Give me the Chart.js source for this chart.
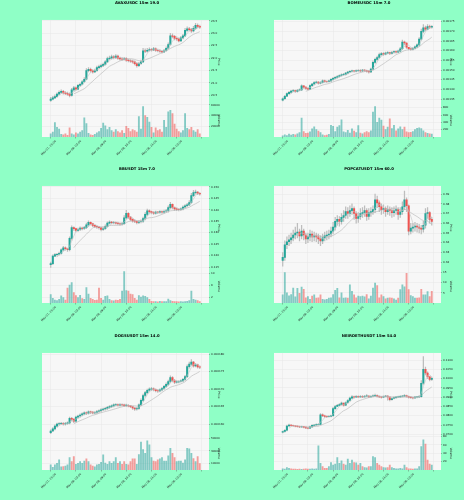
<!DOCTYPE html>
<html><head><meta charset="utf-8">
<script src="https://cdn.jsdelivr.net/npm/chart.js@4.4.1/dist/chart.umd.min.js"></script>
<style>
html,body{margin:0;padding:0;background:#8fffc6;}
#wrap{position:relative;width:464px;height:500px;background:#8fffc6;overflow:hidden;}
canvas{position:absolute;}
</style></head><body><div id="wrap"></div>
<script>
// ---------- data ----------
const timeLabels = ['May 07, 21:00','May 08, 03:00','May 08, 09:00','May 08, 15:00','May 08, 21:00','May 09, 03:00'];
const tickPositions = [0,12,24,36,48,60,72];
const maWindows = [4, 12];

const avaxClose = [20.35,20.40,20.45,20.55,20.62,20.66,20.60,20.58,20.55,20.50,20.72,20.80,20.75,20.90,20.95,21.05,21.15,21.50,21.55,21.50,21.45,21.50,21.62,21.66,21.70,21.75,21.85,21.98,22.00,22.05,22.02,22.08,22.00,21.97,21.96,21.98,21.92,21.90,21.88,21.85,21.78,21.70,21.78,21.85,22.30,22.28,22.32,22.35,22.33,22.38,22.32,22.30,22.28,22.25,22.30,22.40,22.55,22.90,22.88,22.80,22.78,22.70,22.82,22.90,23.12,23.18,23.15,23.10,23.20,23.32,23.28,23.25];
const avaxHigh = [20.42,20.46,20.52,20.60,20.68,20.72,20.70,20.65,20.63,20.60,20.78,20.86,20.84,20.95,21.00,21.10,21.22,21.58,21.62,21.60,21.54,21.56,21.68,21.72,21.76,21.80,21.90,22.04,22.08,22.12,22.10,22.14,22.12,22.04,22.02,22.03,22.02,21.96,21.94,21.92,21.89,21.82,21.83,21.92,22.40,22.38,22.40,22.42,22.40,22.44,22.42,22.37,22.35,22.32,22.36,22.46,22.62,23.00,22.98,22.92,22.86,22.82,22.88,22.96,23.20,23.26,23.24,23.20,23.28,23.40,23.38,23.33];
const avaxLow = [20.26,20.32,20.37,20.42,20.52,20.58,20.55,20.53,20.50,20.44,20.47,20.68,20.70,20.72,20.86,20.92,21.02,21.12,21.45,21.44,21.40,21.42,21.47,21.58,21.62,21.66,21.72,21.82,21.94,21.96,21.97,21.98,21.95,21.92,21.91,21.92,21.87,21.85,21.83,21.80,21.73,21.64,21.66,21.75,21.82,22.22,22.24,22.28,22.28,22.30,22.27,22.25,22.23,22.20,22.22,22.27,22.37,22.52,22.82,22.74,22.72,22.65,22.67,22.78,22.87,23.08,23.10,23.04,23.06,23.16,23.22,23.20];
const avaxVol = [6000,9000,27000,18000,15000,5000,4000,6000,3000,17000,6000,4000,8000,6000,9000,12000,36000,25000,7000,4000,3000,5000,8000,10000,16000,26000,21000,14000,18000,12000,9000,14000,10000,8000,12000,7000,20000,16000,10000,14000,12000,9000,38000,15000,57000,40000,37000,28000,18000,8000,17000,12000,14000,9000,31000,18000,47000,50000,44000,24000,15000,10000,8000,12000,44000,16000,14000,18000,12000,9000,14000,6000];
const avaxPriceTicks = [20.5,21.0,21.5,22.0,22.5,23.0,23.5];
const avaxVolTicks = [20000,40000,60000];

const bomeClose = [0.001352,0.001365,0.001378,0.001385,0.001392,0.001394,0.001390,0.001396,0.001398,0.001418,0.001412,0.001405,0.001402,0.001420,0.001428,0.001436,0.001438,0.001432,0.001436,0.001445,0.001441,0.001440,0.001444,0.001452,0.001458,0.001462,0.001467,0.001472,0.001476,0.001478,0.001484,0.001490,0.001494,0.001496,0.001494,0.001497,0.001499,0.001496,0.001500,0.001498,0.001495,0.001490,0.001505,0.001540,0.001555,0.001565,0.001580,0.001585,0.001582,0.001588,0.001590,0.001586,0.001592,0.001595,0.001593,0.001598,0.001610,0.001645,0.001640,0.001618,0.001610,0.001608,0.001612,0.001620,0.001630,0.001660,0.001700,0.001718,0.001712,0.001725,0.001722,0.001726];
const bomeHigh = [0.001356,0.001370,0.001382,0.001390,0.001396,0.001399,0.001397,0.001400,0.001403,0.001424,0.001420,0.001414,0.001408,0.001424,0.001432,0.001440,0.001443,0.001440,0.001440,0.001449,0.001448,0.001445,0.001448,0.001456,0.001462,0.001466,0.001471,0.001476,0.001480,0.001483,0.001488,0.001494,0.001498,0.001500,0.001499,0.001501,0.001503,0.001502,0.001504,0.001503,0.001500,0.001497,0.001510,0.001548,0.001562,0.001572,0.001588,0.001591,0.001590,0.001593,0.001596,0.001593,0.001597,0.001600,0.001599,0.001603,0.001618,0.001655,0.001650,0.001642,0.001618,0.001615,0.001617,0.001625,0.001636,0.001668,0.001712,0.001735,0.001728,0.001735,0.001732,0.001730];
const bomeLow = [0.001340,0.001348,0.001362,0.001374,0.001381,0.001388,0.001385,0.001386,0.001392,0.001394,0.001406,0.001400,0.001397,0.001399,0.001416,0.001424,0.001432,0.001427,0.001428,0.001432,0.001436,0.001435,0.001437,0.001440,0.001448,0.001454,0.001458,0.001463,0.001468,0.001472,0.001474,0.001480,0.001486,0.001490,0.001489,0.001490,0.001493,0.001491,0.001492,0.001493,0.001489,0.001484,0.001486,0.001500,0.001535,0.001550,0.001560,0.001576,0.001576,0.001578,0.001583,0.001580,0.001582,0.001588,0.001587,0.001590,0.001594,0.001605,0.001630,0.001612,0.001604,0.001602,0.001603,0.001608,0.001615,0.001625,0.001655,0.001692,0.001702,0.001708,0.001714,0.001716];
const bomeVol = [30,60,40,80,50,70,60,90,120,520,150,100,110,140,220,280,200,160,120,60,40,50,70,320,290,150,270,310,470,140,120,180,110,220,160,120,310,110,90,120,150,120,170,680,830,400,520,460,300,200,270,500,230,320,170,220,280,200,270,140,120,130,150,200,240,250,230,170,120,100,90,80];
const bomePriceTicks = [0.00135,0.00140,0.00145,0.00150,0.00155,0.00160,0.00165,0.00170,0.00175];
const bomeVolTicks = [200,400,600,800];

const bbClose = [0.1165,0.1198,0.1204,0.1206,0.1210,0.1225,0.1234,0.1230,0.1226,0.1275,0.1322,0.1318,0.1310,0.1314,0.1320,0.1318,0.1322,0.1334,0.1345,0.1340,0.1332,0.1328,0.1325,0.1322,0.1314,0.1318,0.1328,0.1342,0.1346,0.1344,0.1345,0.1342,0.1340,0.1338,0.1340,0.1365,0.1385,0.1368,0.1358,0.1352,0.1350,0.1345,0.1348,0.1350,0.1362,0.1380,0.1396,0.1392,0.1388,0.1386,0.1390,0.1389,0.1392,0.1390,0.1394,0.1396,0.1410,0.1424,0.1410,0.1404,0.1402,0.1401,0.1404,0.1412,0.1418,0.1422,0.1432,0.1462,0.1475,0.1478,0.1472,0.1470];
const bbHigh = [0.1172,0.1203,0.1209,0.1210,0.1215,0.1230,0.1240,0.1238,0.1233,0.1282,0.1330,0.1326,0.1320,0.1320,0.1326,0.1325,0.1328,0.1342,0.1352,0.1348,0.1342,0.1335,0.1331,0.1328,0.1324,0.1324,0.1334,0.1348,0.1352,0.1350,0.1350,0.1348,0.1346,0.1343,0.1345,0.1375,0.1398,0.1388,0.1372,0.1362,0.1357,0.1352,0.1353,0.1356,0.1368,0.1388,0.1403,0.1400,0.1395,0.1392,0.1395,0.1394,0.1397,0.1396,0.1399,0.1402,0.1418,0.1433,0.1426,0.1412,0.1408,0.1406,0.1409,0.1418,0.1423,0.1428,0.1440,0.1472,0.1485,0.1486,0.1480,0.1476];
const bbLow = [0.1148,0.1160,0.1195,0.1198,0.1202,0.1206,0.1220,0.1224,0.1218,0.1220,0.1268,0.1310,0.1304,0.1306,0.1309,0.1312,0.1314,0.1318,0.1328,0.1334,0.1326,0.1322,0.1319,0.1316,0.1308,0.1310,0.1314,0.1324,0.1338,0.1338,0.1339,0.1337,0.1334,0.1332,0.1333,0.1336,0.1360,0.1362,0.1352,0.1346,0.1344,0.1339,0.1340,0.1343,0.1345,0.1356,0.1375,0.1385,0.1382,0.1380,0.1381,0.1383,0.1384,0.1384,0.1386,0.1389,0.1390,0.1404,0.1404,0.1398,0.1396,0.1395,0.1396,0.1400,0.1408,0.1413,0.1418,0.1428,0.1458,0.1468,0.1466,0.1464];
const bbVol = [2.8,1.6,1.0,0.8,1.2,2.4,1.8,1.0,5.0,6.0,6.8,3.5,2.5,1.8,2.6,1.5,1.2,5.2,3.0,1.6,1.2,0.9,1.0,5.0,1.6,1.0,2.2,2.4,1.2,0.8,0.7,1.0,0.9,1.2,4.0,10.5,4.2,4.0,3.0,2.8,1.6,1.0,2.5,2.0,2.4,2.2,1.8,1.2,0.6,0.5,0.5,0.4,0.6,0.5,0.5,0.5,1.3,0.8,0.6,0.5,0.5,0.4,0.5,0.4,0.5,0.6,0.8,4.0,1.2,1.0,0.8,0.5];
const bbPriceTicks = [0.115,0.120,0.125,0.130,0.135,0.140,0.145,0.150];
const bbVolTicks = [2,4,6,8,10];

const popClose = [0.325,0.338,0.341,0.343,0.345,0.348,0.350,0.351,0.347,0.352,0.348,0.344,0.346,0.349,0.346,0.347,0.346,0.344,0.342,0.345,0.347,0.348,0.349,0.352,0.356,0.362,0.364,0.362,0.366,0.368,0.372,0.370,0.373,0.375,0.370,0.365,0.367,0.370,0.371,0.373,0.367,0.371,0.372,0.374,0.384,0.381,0.377,0.374,0.375,0.372,0.374,0.373,0.371,0.373,0.374,0.369,0.372,0.377,0.384,0.378,0.352,0.355,0.356,0.357,0.356,0.355,0.354,0.358,0.370,0.371,0.364,0.362];
const popHigh = [0.330,0.342,0.346,0.348,0.350,0.353,0.356,0.360,0.354,0.358,0.354,0.350,0.350,0.353,0.352,0.351,0.350,0.349,0.347,0.349,0.351,0.352,0.353,0.356,0.361,0.366,0.368,0.367,0.370,0.373,0.377,0.376,0.378,0.380,0.377,0.372,0.371,0.375,0.376,0.378,0.375,0.375,0.376,0.378,0.390,0.388,0.383,0.380,0.379,0.377,0.378,0.377,0.376,0.377,0.378,0.376,0.376,0.382,0.393,0.386,0.379,0.360,0.360,0.361,0.360,0.359,0.358,0.362,0.375,0.376,0.372,0.366];
const popLow = [0.316,0.322,0.334,0.337,0.339,0.342,0.344,0.345,0.342,0.344,0.343,0.339,0.340,0.342,0.341,0.342,0.341,0.339,0.337,0.339,0.342,0.343,0.344,0.346,0.349,0.353,0.358,0.357,0.359,0.362,0.365,0.365,0.367,0.369,0.364,0.360,0.361,0.364,0.366,0.367,0.363,0.364,0.367,0.369,0.371,0.376,0.372,0.369,0.370,0.367,0.369,0.368,0.366,0.367,0.369,0.364,0.366,0.369,0.374,0.372,0.348,0.349,0.351,0.352,0.351,0.350,0.349,0.351,0.355,0.365,0.360,0.358];
const popVol = [4.0,15.0,5.0,3.5,4.2,7.4,3.0,7.2,4.8,7.8,6.8,2.6,3.2,1.8,3.4,4.0,2.4,2.6,4.0,1.8,1.6,1.8,2.4,2.6,4.2,6.2,7.2,2.6,5.0,2.4,2.6,2.4,9.0,5.8,4.0,2.6,3.4,3.2,3.4,3.0,4.2,2.0,3.4,7.4,9.8,8.6,2.6,4.0,3.2,2.0,2.4,2.6,2.4,2.0,1.4,2.4,6.6,9.0,8.0,14.7,6.6,3.6,3.2,2.4,2.4,2.6,6.8,4.0,4.0,5.6,3.2,5.8];
const popPriceTicks = [0.32,0.33,0.34,0.35,0.36,0.37,0.38,0.39];
const popVolTicks = [5,10,15];

const dogsClose = [0.0001580,0.0001586,0.0001594,0.0001600,0.0001601,0.0001602,0.0001600,0.0001602,0.0001603,0.0001616,0.0001614,0.0001608,0.0001620,0.0001623,0.0001626,0.0001629,0.0001632,0.0001631,0.0001635,0.0001634,0.0001632,0.0001633,0.0001636,0.0001638,0.0001641,0.0001643,0.0001645,0.0001648,0.0001650,0.0001652,0.0001655,0.0001656,0.0001654,0.0001656,0.0001655,0.0001653,0.0001654,0.0001652,0.0001650,0.0001646,0.0001643,0.0001645,0.0001655,0.0001668,0.0001682,0.0001690,0.0001697,0.0001700,0.0001701,0.0001699,0.0001696,0.0001695,0.0001698,0.0001702,0.0001708,0.0001714,0.0001722,0.0001733,0.0001725,0.0001720,0.0001721,0.0001722,0.0001724,0.0001728,0.0001736,0.0001765,0.0001772,0.0001778,0.0001767,0.0001770,0.0001764,0.0001763];
const dogsHigh = [0.0001583,0.0001590,0.0001598,0.0001603,0.0001604,0.0001605,0.0001604,0.0001605,0.0001606,0.0001620,0.0001619,0.0001615,0.0001623,0.0001626,0.0001629,0.0001632,0.0001635,0.0001635,0.0001638,0.0001637,0.0001636,0.0001636,0.0001639,0.0001641,0.0001644,0.0001646,0.0001648,0.0001651,0.0001653,0.0001655,0.0001658,0.0001659,0.0001658,0.0001659,0.0001658,0.0001657,0.0001657,0.0001656,0.0001654,0.0001651,0.0001648,0.0001648,0.0001658,0.0001672,0.0001686,0.0001694,0.0001700,0.0001704,0.0001705,0.0001704,0.0001701,0.0001699,0.0001701,0.0001705,0.0001711,0.0001718,0.0001726,0.0001738,0.0001736,0.0001728,0.0001725,0.0001725,0.0001727,0.0001731,0.0001740,0.0001770,0.0001778,0.0001785,0.0001780,0.0001774,0.0001772,0.0001767];
const dogsLow = [0.0001572,0.0001578,0.0001583,0.0001591,0.0001597,0.0001598,0.0001597,0.0001597,0.0001599,0.0001600,0.0001609,0.0001604,0.0001605,0.0001617,0.0001620,0.0001623,0.0001626,0.0001627,0.0001628,0.0001630,0.0001629,0.0001629,0.0001630,0.0001633,0.0001635,0.0001638,0.0001640,0.0001642,0.0001645,0.0001647,0.0001649,0.0001652,0.0001651,0.0001651,0.0001652,0.0001650,0.0001650,0.0001649,0.0001647,0.0001642,0.0001639,0.0001640,0.0001642,0.0001652,0.0001665,0.0001678,0.0001687,0.0001694,0.0001696,0.0001695,0.0001692,0.0001691,0.0001692,0.0001695,0.0001699,0.0001705,0.0001711,0.0001718,0.0001721,0.0001716,0.0001717,0.0001718,0.0001720,0.0001722,0.0001725,0.0001733,0.0001760,0.0001768,0.0001763,0.0001764,0.0001760,0.0001759];
const dogsVol = [7900,4000,8000,10500,15800,5000,5500,6000,8000,19500,13000,21000,9000,10500,13000,10500,14000,17400,13000,8000,6000,5000,8000,9000,12000,23700,11000,9000,13000,10500,13000,19500,10500,13000,9000,13000,9000,8000,13000,17400,17400,9000,24000,43700,32000,26000,45800,39500,19500,14000,13000,15800,17400,19500,14000,14000,22000,34000,26000,19500,13000,14000,14000,11000,15800,34000,33000,26000,18000,13000,21000,10000];
const dogsPriceTicks = [0.000160,0.000165,0.000170,0.000175,0.000180];
const dogsVolTicks = [10000,20000,30000,40000,50000];

const neiroClose = [0.0715,0.0722,0.0745,0.0750,0.0748,0.0746,0.0744,0.0742,0.0740,0.0741,0.0739,0.0735,0.0733,0.0740,0.0748,0.0750,0.0752,0.0754,0.0805,0.0800,0.0796,0.0795,0.0797,0.0800,0.0838,0.0850,0.0856,0.0860,0.0868,0.0857,0.0870,0.0882,0.0895,0.0902,0.0900,0.0903,0.0902,0.0904,0.0902,0.0905,0.0906,0.0902,0.0905,0.0907,0.0910,0.0905,0.0902,0.0900,0.0903,0.0906,0.0901,0.0886,0.0893,0.0898,0.0900,0.0902,0.0904,0.0906,0.0909,0.0905,0.0900,0.0898,0.0896,0.0900,0.0901,0.0903,0.0975,0.1050,0.1030,0.1010,0.0995,0.1002];
const neiroHigh = [0.0718,0.0726,0.0750,0.0755,0.0753,0.0750,0.0748,0.0746,0.0745,0.0745,0.0743,0.0741,0.0738,0.0744,0.0752,0.0754,0.0756,0.0758,0.0812,0.0810,0.0803,0.0800,0.0801,0.0804,0.0845,0.0856,0.0862,0.0866,0.0874,0.0868,0.0875,0.0887,0.0900,0.0908,0.0906,0.0908,0.0907,0.0909,0.0908,0.0910,0.0914,0.0908,0.0909,0.0912,0.0916,0.0912,0.0907,0.0905,0.0907,0.0910,0.0908,0.0902,0.0897,0.0902,0.0904,0.0906,0.0908,0.0910,0.0914,0.0911,0.0906,0.0903,0.0900,0.0904,0.0905,0.0908,0.0990,0.1118,0.1062,0.1036,0.1014,0.1008];
const neiroLow = [0.0708,0.0712,0.0718,0.0742,0.0744,0.0741,0.0740,0.0738,0.0736,0.0737,0.0735,0.0731,0.0729,0.0731,0.0737,0.0745,0.0747,0.0749,0.0752,0.0795,0.0791,0.0790,0.0792,0.0794,0.0797,0.0834,0.0850,0.0854,0.0857,0.0852,0.0854,0.0866,0.0878,0.0892,0.0896,0.0898,0.0898,0.0899,0.0898,0.0900,0.0901,0.0898,0.0900,0.0902,0.0904,0.0900,0.0897,0.0895,0.0897,0.0901,0.0884,0.0880,0.0884,0.0890,0.0894,0.0897,0.0899,0.0901,0.0903,0.0900,0.0895,0.0893,0.0891,0.0893,0.0896,0.0898,0.0900,0.0968,0.1020,0.1000,0.0988,0.0990];
const neiroVol = [3,2,6,4,3,2,2,1.5,2,1.5,2,3,2,2,3,2,3,58,16,8,4,4,8,18,12,14,30,16,22,14,12,26,16,24,18,17,12,16,8,6,5,8,8,32,30,16,12,8,6,5,6,12,6,4,3,3,4,3,12,6,3,3,2,3,3,8,56,72,62,24,14,12];
const neiroPriceTicks = [0.070,0.075,0.080,0.085,0.090,0.095,0.100,0.105,0.110];
const neiroVolTicks = [20,40,60,80];

// ---------- panels ----------
const panels = [
  {title:'AVAXUSDC 15m 19.0', open0:20.30, close:avaxClose, high:avaxHigh, low:avaxLow, vol:avaxVol, pTicks:avaxPriceTicks, vTicks:avaxVolTicks, dec:1, pMin:20.17, pMax:23.54, vMax:62600, pos:[0,0]},
  {title:'BOMEUSDC 15m 7.0', open0:0.001345, close:bomeClose, high:bomeHigh, low:bomeLow, vol:bomeVol, pTicks:bomePriceTicks, vTicks:bomeVolTicks, dec:5, pMin:0.001327, pMax:0.001759, vMax:914, pos:[232,0]},
  {title:'BBUSDT 15m 7.0', open0:0.1160, close:bbClose, high:bbHigh, low:bbLow, vol:bbVol, pTicks:bbPriceTicks, vTicks:bbVolTicks, dec:3, pMin:0.1139, pMax:0.15044, vMax:11.2, pos:[0,166]},
  {title:'POPCATUSDT 15m 60.0', open0:0.322, close:popClose, high:popHigh, low:popLow, vol:popVol, pTicks:popPriceTicks, vTicks:popVolTicks, dec:2, pMin:0.3125, pMax:0.3983, vMax:16.5, pos:[232,166]},
  {title:'DOGSUSDT 15m 14.0', open0:0.0001575, close:dogsClose, high:dogsHigh, low:dogsLow, vol:dogsVol, pTicks:dogsPriceTicks, vTicks:dogsVolTicks, dec:6, pMin:0.0001564, pMax:0.0001804, vMax:52300, pos:[0,333]},
  {title:'NEIROETHUSDT 15m 54.0', open0:0.0712, close:neiroClose, high:neiroHigh, low:neiroLow, vol:neiroVol, pTicks:neiroPriceTicks, vTicks:neiroVolTicks, dec:4, pMin:0.0688, pMax:0.1138, vMax:80, pos:[232,333]}
];

const FONT = '"DejaVu Sans", sans-serif';
const UP = '#26a69a', DOWN = '#ef5350';
const UPV = 'rgba(38,166,154,0.55)', DOWNV = 'rgba(239,83,80,0.55)';
const MA_COLORS = ['#c4c4c4', '#b4b4b4'];
const GRID = '#e6e6e6';

function movingAverage(arr, w) {
  return arr.map((_, i) => {
    if (i < w - 1) return null;
    let s = 0; for (let k = i - w + 1; k <= i; k++) s += arr[k];
    return s / w;
  });
}

const bgPlugin = {
  id: 'plotbg',
  beforeDraw(chart) {
    const {ctx, chartArea: a} = chart;
    ctx.save();
    ctx.fillStyle = '#f7f7f7';
    ctx.fillRect(a.left, a.top, a.right - a.left, a.bottom - a.top);
    ctx.restore();
  }
};

const wrap = document.getElementById('wrap');
panels.forEach(p => {
  const cv = document.createElement('canvas');
  cv.width = 232; cv.height = 167;
  cv.style.left = p.pos[0] + 'px'; cv.style.top = p.pos[1] + 'px';
  wrap.appendChild(cv);
  const opens = p.close.map((c, i) => i === 0 ? p.open0 : p.close[i - 1]);
  const up = p.close.map((c, i) => c >= opens[i]);
  const idx = p.close.map((_, i) => i);
  const datasets = [
    {type:'bar', data: idx.map(i => ({x:i, y:[p.low[i], p.high[i]]})), yAxisID:'price', backgroundColor:'#bdbdbd', barThickness:0.6, grouped:false, order:4},
    {type:'bar', data: idx.map(i => ({x:i, y:[opens[i], p.close[i]]})), yAxisID:'price', backgroundColor: up.map(u => u ? UP : DOWN), barThickness:1.4, minBarLength:0.4, grouped:false, order:3},
    ...maWindows.map((w, k) => ({type:'line', data: movingAverage(p.close, w).map((v, i) => ({x:i, y:v})), yAxisID:'price', borderColor: MA_COLORS[k], borderWidth:0.6, pointRadius:0, spanGaps:false, order:1})),
    {type:'bar', data: idx.map(i => ({x:i, y:p.vol[i]})), yAxisID:'vol', backgroundColor: up.map(u => u ? UPV : DOWNV), barThickness:1.2, grouped:false, order:2}
  ];
  const tickFont = {family: FONT, size: 2.8};
  new Chart(cv, {
    data: {datasets},
    options: {
      responsive:false, animation:false, devicePixelRatio:1,
      layout:{padding:{left:42, right:0, top:0, bottom:0}},
      plugins:{
        legend:{display:false}, tooltip:{enabled:false},
        title:{display:true, text:p.title, color:'#000', font:{family:FONT, size:3.8, weight:'bold'}, padding:{top:0.5, bottom:14.9}}
      },
      scales:{
        x:{type:'linear', min:-4.15, max:75.4, offset:false,
           afterBuildTicks: s => { s.ticks = tickPositions.map(v => ({value:v})); },
           afterFit: s => { s.height = 30; },
           ticks:{autoSkip:false, minRotation:45, maxRotation:45, labelOffset:5, padding:1, font:tickFont, color:'#222',
                  callback: v => timeLabels[v / 12] ?? ''},
           grid:{offset:false, color:GRID, lineWidth:0.5, tickLength:1.5, tickColor:'#555', tickWidth:0.4},
           border:{display:false}},
        price:{type:'linear', position:'right', stack:'y', stackWeight:2.5, min:p.pMin, max:p.pMax,
           afterBuildTicks: s => { s.ticks = p.pTicks.map(v => ({value:v})); },
           afterFit: s => { s.width = 23; },
           ticks:{font:tickFont, color:'#222', padding:1, callback: v => v.toFixed(p.dec)},
           grid:{color:GRID, lineWidth:0.5, tickLength:1, tickColor:'#555', tickWidth:0.4},
           border:{display:false},
           title:{display:true, text:'Price', color:'#222', font:{family:FONT, size:3}, padding:{top:11, bottom:0}}},
        vol:{type:'linear', position:'right', stack:'y', stackWeight:1, min:0, max:p.vMax,
           afterBuildTicks: s => { s.ticks = p.vTicks.map(v => ({value:v})); },
           afterFit: s => { s.width = 23; },
           ticks:{font:tickFont, color:'#222', padding:1, callback: v => String(v)},
           grid:{color:GRID, lineWidth:0.5, tickLength:1, tickColor:'#555', tickWidth:0.4},
           border:{display:false},
           title:{display:true, text:'Volume', color:'#222', font:{family:FONT, size:3}, padding:{top:11, bottom:0}}}
      }
    },
    plugins:[bgPlugin]
  });
});
</script></body></html>
